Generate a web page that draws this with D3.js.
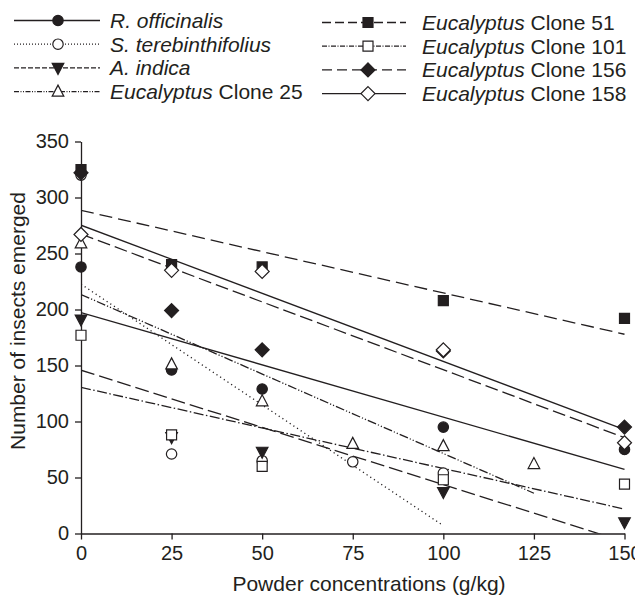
<!DOCTYPE html>
<html><head><meta charset="utf-8">
<script src="https://cdn.jsdelivr.net/npm/d3@7"></script>
<style>body{margin:0;background:#fff}svg{display:block}</style>
</head><body><svg id="c" width="635" height="596"></svg>
<script>
// ---- data ----
const xTicks = [0, 25, 50, 75, 100, 125, 150];
const yTicks = [0, 50, 100, 150, 200, 250, 300, 350];
const seriesItalic = ["R. officinalis", "S. terebinthifolius", "A. indica", "Eucalyptus", "Eucalyptus", "Eucalyptus", "Eucalyptus", "Eucalyptus"];
const seriesSuffix = ["", "", "", " Clone 25", " Clone 51", " Clone 101", " Clone 156", " Clone 158"];
const rOfficinalisX = [0, 25, 50, 100, 150];
const rOfficinalisY = [238, 146, 129, 95, 75];
const sTerebinthifoliusX = [0, 25, 50, 75, 100];
const sTerebinthifoliusY = [320, 71, 65, 64, 54];
const aIndicaX = [0, 25, 50, 100, 150];
const aIndicaY = [191, 86, 73, 37, 10];
const clone25X = [0, 25, 50, 75, 100, 125];
const clone25Y = [259, 151, 118, 80, 78, 62];
const clone51X = [0, 25, 50, 100, 150];
const clone51Y = [325, 240, 238, 208, 192];
const clone101X = [0, 25, 50, 100, 150];
const clone101Y = [177, 88, 60, 48, 44];
const clone156X = [0, 25, 50, 100, 150];
const clone156Y = [322, 199, 164, 163, 95];
const clone158X = [0, 25, 50, 100, 150];
const clone158Y = [267, 235, 234, 164, 81];
const trendEndX = [150, 100, 150, 125, 150, 150, 150, 150];

const seriesX = [rOfficinalisX, sTerebinthifoliusX, aIndicaX, clone25X, clone51X, clone101X, clone156X, clone158X];
const seriesY = [rOfficinalisY, sTerebinthifoliusY, aIndicaY, clone25Y, clone51Y, clone101Y, clone156Y, clone158Y];

// ---- styles ----
const INK = "#231f20";
const markerType = ["circle", "circle", "triDown", "triUp", "square", "square", "diamond", "diamond"];
const markerFill = [INK, "#fff", INK, "#fff", INK, "#fff", INK, "#fff"];
const plotDash = [null, "1.2,3.2", "14,5", "9,2,1.2,2,1.2,2", "13,6", "10,2.5,1.5,2.5", "13,5", null];
const legendDash = [null, "1,2", "5,2", "5,1.5,1,1.5,1,1.5", "9,4", "5,1.5,1,1.5", "10,5", null];

const svg = d3.select("#c");
const FONT = "'Liberation Sans', Arial, Helvetica, sans-serif";

const x = d3.scaleLinear().domain([0, 150]).range([81, 624.5]);
const y = d3.scaleLinear().domain([0, 350]).range([533.5, 141.5]);

function markerPath(type) {
  const p = d3.path();
  if (type === "circle") { p.arc(0, 0, 5.2, 0, 2 * Math.PI); }
  else if (type === "square") { p.rect(-5, -5, 10, 10); }
  else if (type === "triUp") { p.moveTo(0, -6.5); p.lineTo(5.8, 4.5); p.lineTo(-5.8, 4.5); p.closePath(); }
  else if (type === "triDown") { p.moveTo(0, 6.5); p.lineTo(5.8, -4.5); p.lineTo(-5.8, -4.5); p.closePath(); }
  else if (type === "diamond") { p.moveTo(0, -7); p.lineTo(7, 0); p.lineTo(0, 7); p.lineTo(-7, 0); p.closePath(); }
  return p.toString();
}

// clip
svg.append("defs").append("clipPath").attr("id", "plotclip")
  .append("rect").attr("x", x(0)).attr("y", y(350) - 10).attr("width", x(150) - x(0) + 10).attr("height", y(0) - y(350) + 10);

// axes
const yAxis = svg.append("g").attr("transform", `translate(${x(0)},0)`)
  .call(d3.axisLeft(y).tickValues(yTicks).tickSize(6).tickSizeOuter(0).tickPadding(6));
const xAxis = svg.append("g").attr("transform", `translate(0,${y(0)})`)
  .call(d3.axisBottom(x).tickValues(xTicks).tickSize(6).tickSizeOuter(0).tickPadding(5));
[yAxis, xAxis].forEach(g => {
  g.selectAll("path,line").attr("stroke", INK).attr("stroke-width", 1.3);
  g.selectAll("text").attr("fill", INK).style("font-family", FONT).style("font-size", "20px");
});
xAxis.selectAll("text").attr("dy", "0.78em");

// axis titles
svg.append("text").attr("x", 369).attr("y", 591).attr("text-anchor", "middle")
  .attr("fill", INK).style("font-family", FONT).style("font-size", "21px")
  .text("Powder concentrations (g/kg)");
svg.append("text").attr("transform", "translate(25,321) rotate(-90)").attr("text-anchor", "middle")
  .attr("fill", INK).style("font-family", FONT).style("font-size", "21px")
  .text("Number of insects emerged");

// trend lines (least squares fit of each series)
const lines = svg.append("g").attr("clip-path", "url(#plotclip)");
seriesX.forEach((xs, i) => {
  const ys = seriesY[i];
  const mx = d3.mean(xs), my = d3.mean(ys);
  const sxy = d3.sum(xs, (v, k) => (v - mx) * (ys[k] - my));
  const sxx = d3.sum(xs, v => (v - mx) * (v - mx));
  const b = sxy / sxx, a = my - b * mx;
  const ends = [0, trendEndX[i]];
  lines.append("path")
    .attr("d", d3.line()(ends.map(v => [x(v), y(a + b * v)])))
    .attr("fill", "none").attr("stroke", INK).attr("stroke-width", 1.3)
    .attr("stroke-dasharray", plotDash[i]);
});

// markers
const marks = svg.append("g");
seriesX.forEach((xs, i) => {
  marks.selectAll(null).data(xs.map((v, k) => [v, seriesY[i][k]])).join("path")
    .attr("transform", d => `translate(${x(d[0])},${y(d[1])})`)
    .attr("d", markerPath(markerType[i]))
    .attr("fill", markerFill[i]).attr("stroke", INK).attr("stroke-width", 1.2);
});

// legend
const legendCols = [{x1: 14, x2: 100, xm: 58, xt: 110, y0: 20.5}, {x1: 322, x2: 406, xm: 368, xt: 422, y0: 22.5}];
const rowStep = 23.7;
seriesX.forEach((xs, i) => {
  const c = legendCols[Math.floor(i / 4)];
  const yy = c.y0 + (i % 4) * rowStep;
  const g = svg.append("g");
  g.append("line").attr("x1", c.x1).attr("x2", c.x2).attr("y1", yy).attr("y2", yy)
    .attr("stroke", INK).attr("stroke-width", 1.3).attr("stroke-dasharray", legendDash[i]);
  g.append("path").attr("transform", `translate(${c.xm},${yy})`).attr("d", markerPath(markerType[i]))
    .attr("fill", markerFill[i]).attr("stroke", INK).attr("stroke-width", 1.2);
  const t = g.append("text").attr("x", c.xt).attr("y", yy).attr("dy", "0.36em")
    .attr("fill", INK).style("font-family", FONT).style("font-size", "21px");
  t.append("tspan").style("font-style", "italic").text(seriesItalic[i]);
  if (seriesSuffix[i]) t.append("tspan").text(seriesSuffix[i]);
});
</script></body></html>
